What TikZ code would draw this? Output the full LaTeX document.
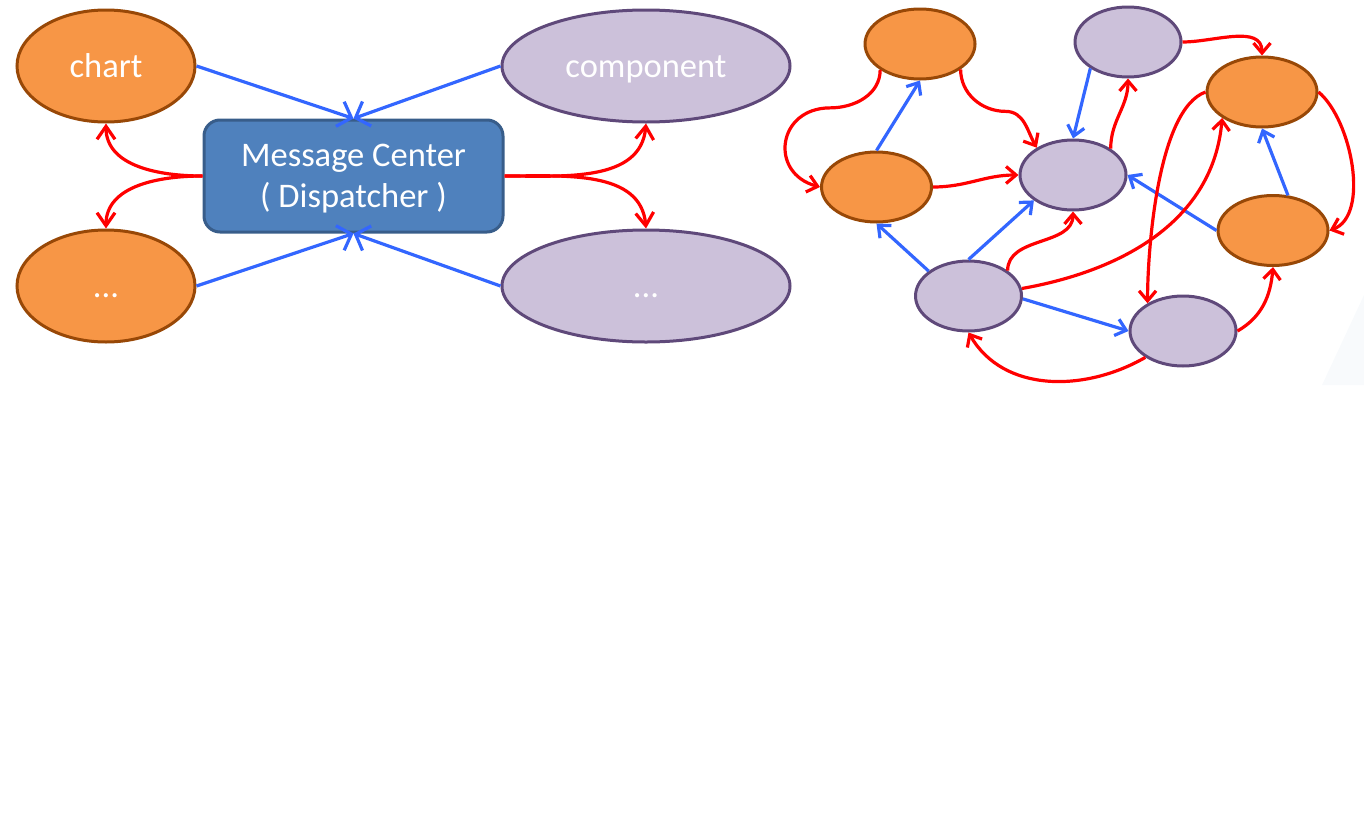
\documentclass[tikz,border=0pt]{standalone}
\usepackage{fontspec}
\setmainfont{Carlito}
\usetikzlibrary{shapes.geometric,arrows.meta}
\definecolor{orangefill}{HTML}{F79646}
\definecolor{orangeline}{HTML}{984807}
\definecolor{purplefill}{HTML}{CCC1DA}
\definecolor{purpleline}{HTML}{5F497A}
\definecolor{boxfill}{HTML}{4F81BD}
\definecolor{boxline}{HTML}{385D8A}
\definecolor{linkblue}{HTML}{3366FF}
\definecolor{linkred}{HTML}{FF0000}
\definecolor{faintbg}{HTML}{F8FAFC}
\tikzset{
  orangenode/.style={ellipse, draw=orangeline, fill=orangefill, line width=3pt,
    inner sep=0pt, text=white, text height=23pt, text depth=0pt},
  purplenode/.style={ellipse, draw=purpleline, fill=purplefill, line width=3pt,
    inner sep=0pt, text=white, text height=23pt, text depth=0pt},
  centerbox/.style={rectangle, rounded corners=16pt, draw=boxline, fill=boxfill,
    line width=3pt, text=white, align=center, minimum width=299pt,
    minimum height=112pt, text depth=0pt},
  bluearrow/.style={draw=linkblue, line width=3.2pt,
    -{Straight Barb[length=12pt,width=26pt]}},
  redarrow/.style={draw=linkred, line width=3.2pt,
    -{Straight Barb[length=13pt,width=18pt]}},
  smalltip/.style={-{Straight Barb[length=10pt,width=17pt]}}
}
\begin{document}
\begin{tikzpicture}[x=1pt,y=1pt,font=\fontsize{34.5}{41}\selectfont]
\useasboundingbox (0,0) rectangle (1364,-830);
\fill[faintbg] (1322,-385) -- (1364,-295) -- (1364,-385) -- cycle;
% left: message center
\node[orangenode, minimum width=178pt, minimum height=112pt] (chart) at (106,-66) {chart};
\node[orangenode, minimum width=178pt, minimum height=112pt] (odots) at (106,-286) {...};
\node[purplenode, minimum width=288pt, minimum height=112pt] (comp) at (646,-66) {component};
\node[purplenode, minimum width=288pt, minimum height=112pt] (pdots) at (646,-286) {...};
\node[centerbox] (center) at (353.5,-176) {Message Center\\( Dispatcher )};
\draw[bluearrow] (chart.east) -- (center.north);
\draw[bluearrow] (comp.west) -- (center.north);
\draw[bluearrow] (odots.east) -- (center.south);
\draw[bluearrow] (pdots.west) -- (center.south);
\draw[redarrow] (center.west) to[out=180,in=-90] (chart.south);
\draw[redarrow] (center.west) to[out=180,in=90] (odots.north);
\draw[redarrow] (center.east) to[out=0,in=-95] (comp.south);
\draw[redarrow] (center.east) to[out=0,in=95] (pdots.north);
% right: without message center
\node[orangenode, minimum width=110pt, minimum height=70pt] (o1) at (920,-44) {};
\node[orangenode, minimum width=110pt, minimum height=70pt] (o2) at (876.5,-187) {};
\node[orangenode, minimum width=110pt, minimum height=70pt] (o3) at (1262,-92) {};
\node[orangenode, minimum width=110pt, minimum height=70pt] (o4) at (1273,-230.5) {};
\node[purplenode, minimum width=106pt, minimum height=70pt] (p1) at (1073,-175) {};
\node[purplenode, minimum width=106pt, minimum height=70pt] (p2) at (968.5,-296) {};
\node[purplenode, minimum width=106pt, minimum height=70pt] (p3) at (1128,-42) {};
\node[purplenode, minimum width=106pt, minimum height=70pt] (p4) at (1183,-331) {};
\draw[bluearrow,smalltip] (o2.north) -- (o1.south);
\draw[bluearrow,smalltip] (p2.148) -- (o2.south);
\draw[bluearrow,smalltip] (p2.north) -- (p1.213);
\draw[bluearrow,smalltip] (p2.-3) -- (p4.west);
\draw[bluearrow,smalltip] (p3.215) -- (p1.north);
\draw[bluearrow,smalltip] (o4.west) -- (p1.east);
\draw[bluearrow,smalltip] (o4.67) -- (o3.south);
\draw[redarrow,smalltip] (o1.213) to[out=-90,in=0] ++(-50,-38)
  to[out=180,in=165,looseness=1.7] (o2.west);
\draw[redarrow,smalltip] (o1.328) to[out=-90,in=180] ++(45,-42)
  to[out=0,in=120] (p1.143);
\draw[redarrow,smalltip] (o2.east) to[out=0,in=180] (p1.west);
\draw[redarrow,smalltip] (p1.35) to[out=90,in=-90] (p3.south);
\draw[redarrow,smalltip] (p3.east) to[out=0,in=90] (o3.north);
\draw[redarrow,smalltip] (o3.east) to[out=-40,in=20,looseness=0.8] (o4.east);
\draw[redarrow,smalltip] (o3.west) to[out=200,in=90,looseness=0.6] (p4.142);
\draw[redarrow,smalltip] (p2.8) to[out=10,in=-95] (o3.213);
\draw[redarrow,smalltip] (p2.33) to[out=90,in=-90] (p1.south);
\draw[redarrow,smalltip] (p4.215) to[out=-150,in=-60] (p2.south);
\draw[redarrow,smalltip] (p4.east) to[out=30,in=-95] (o4.south);
\end{tikzpicture}
\end{document}
